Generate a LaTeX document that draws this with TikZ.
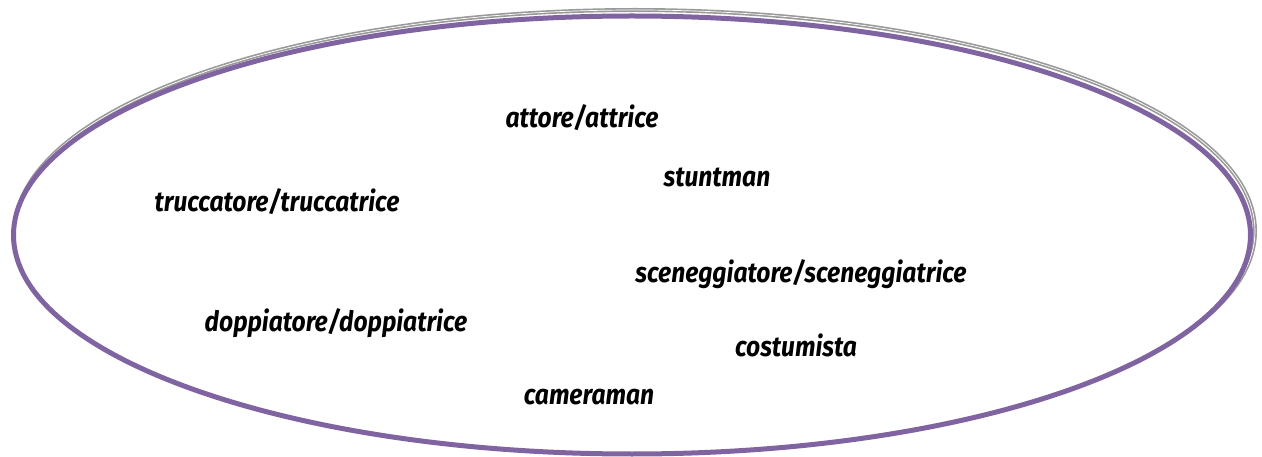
\documentclass[tikz,border=0pt]{standalone}
\usepackage{fontspec}
\newfontfamily\lblfont{Fira Sans}[FakeStretch=0.88]
\begin{document}
\begin{tikzpicture}[x=1pt,y=-1pt,
  lbl/.style={font=\lblfont\bfseries\itshape\fontsize{28}{30}\selectfont, text=black, inner sep=0pt}]
\useasboundingbox (0,0) rectangle (1262,457);
\draw[gray!80, line width=4pt] (635,231) ellipse [x radius=620, y radius=221];
\draw[white, line width=0.7pt] (635,231) ellipse [x radius=620, y radius=221];
\draw[fill=white, draw=none] (632,235) ellipse [x radius=619, y radius=219.5];
\draw[draw={rgb,255:red,128;green,100;blue,162}, line width=5pt] (632,235) ellipse [x radius=618.5, y radius=219];
\node[lbl] (attore) at (582,118) {attore/attrice};
\node[lbl] (stunt) at (717,177) {stuntman};
\node[lbl] (trucc) at (277,202) {truccatore/truccatrice};
\node[lbl] (scen) at (801,274) {sceneggiatore/sceneggiatrice};
\node[lbl] (dopp) at (336,323) {doppiatore/doppiatrice};
\node[lbl] (cost) at (796,345) {costumista};
\node[lbl] (camera) at (589,397) {cameraman};
\end{tikzpicture}
\end{document}
